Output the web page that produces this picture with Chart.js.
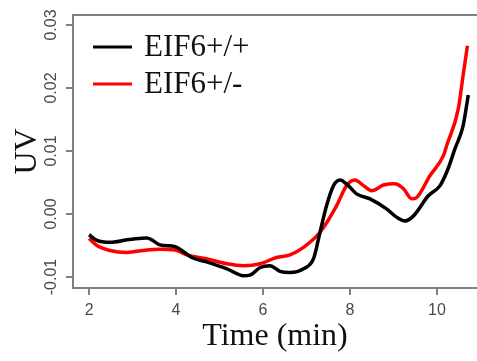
<!DOCTYPE html>
<html>
<head>
<meta charset="utf-8">
<script src="https://cdn.jsdelivr.net/npm/chart.js@4"></script>
<style>
  html, body { margin: 0; padding: 0; background: #fff; }
  #wrap { width: 477px; height: 361px; }
</style>
</head>
<body>
<div id="wrap"><canvas id="uvChart" width="477" height="361"></canvas></div>
<script>
// Values
const seriesNames = ['EIF6+/+', 'EIF6+/-'];

const wtTime = [2.00, 2.18, 2.48, 2.87, 3.15, 3.33, 3.44, 3.63, 3.98, 4.09, 4.36, 4.70, 5.17, 5.55, 5.70, 5.93,
                6.16, 6.39, 6.62, 6.93, 7.16, 7.31, 7.46, 7.62, 7.77, 7.96, 8.15, 8.46, 8.84, 9.07, 9.26, 9.46,
                9.80, 10.07, 10.25, 10.41, 10.60, 10.72];
const wtUV = [-0.0033, -0.0042, -0.0045, -0.0041, -0.0039, -0.0038, -0.0041, -0.0049, -0.0052, -0.0056, -0.0069,
              -0.0076, -0.0087, -0.0098, -0.0097, -0.0085, -0.0082, -0.0091, -0.0093, -0.0087, -0.0071, -0.0029,
              0.0013, 0.0045, 0.0054, 0.0045, 0.0032, 0.0024, 0.0008, -0.0005, -0.0011, -0.0003,
              0.0029, 0.0045, 0.0071, 0.0103, 0.0140, 0.0189];

const hetTime = [2.00, 2.18, 2.48, 2.87, 3.33, 3.63, 3.98, 4.25, 4.70, 5.17, 5.55, 5.93, 6.31, 6.62, 6.93, 7.31,
                 7.69, 7.92, 8.11, 8.31, 8.50, 8.77, 9.03, 9.23, 9.42, 9.53, 9.84, 10.15, 10.22, 10.49, 10.60, 10.70];
const hetUV = [-0.0039, -0.0050, -0.0058, -0.0061, -0.0057, -0.0056, -0.0057, -0.0065, -0.0071, -0.0079, -0.0082,
               -0.0079, -0.0069, -0.0065, -0.0053, -0.0029, 0.0013, 0.0045, 0.0054, 0.0045, 0.0037, 0.0046,
               0.0048, 0.0040, 0.0024, 0.0026, 0.0061, 0.0093, 0.0108, 0.0167, 0.0220, 0.0267];

const xTicks = [2, 4, 6, 8, 10];
const yTicks = [-0.01, 0.00, 0.01, 0.02, 0.03];

const axisGray = '#808080';
const labelGray = '#4a4a4a';
const serif = "'Liberation Serif', 'Times New Roman', serif";
const sans = "'Liberation Sans', Arial, sans-serif";

function toPoints(xs, ys) {
    return xs.map((x, i) => ({ x: x, y: ys[i] }));
}

// top border of the frame + legend inside the plot
const framePlugin = {
    id: 'frame',
    afterDraw(chart) {
        const { ctx, chartArea } = chart;
        ctx.save();
        ctx.strokeStyle = axisGray;
        ctx.lineWidth = 2;
        ctx.beginPath();
        ctx.moveTo(chartArea.left, chartArea.top);
        ctx.lineTo(chartArea.right, chartArea.top);
        ctx.stroke();

        const colors = ['#000000', '#ff0000'];
        ctx.font = '31px ' + serif;
        ctx.textBaseline = 'alphabetic';
        ctx.textAlign = 'left';
        seriesNames.forEach((name, i) => {
            const y = 47 + i * 37;
            ctx.strokeStyle = colors[i];
            ctx.lineWidth = 3;
            ctx.beginPath();
            ctx.moveTo(93, y);
            ctx.lineTo(132, y);
            ctx.stroke();
            ctx.fillStyle = '#111';
            ctx.fillText(name, 144, y + 9);
        });
        ctx.restore();
    }
};

new Chart(document.getElementById('uvChart'), {
    type: 'line',
    data: {
        datasets: [
            {
                label: seriesNames[0],
                data: toPoints(wtTime, wtUV),
                borderColor: '#000000',
                borderWidth: 3.5,
                pointRadius: 0,
                cubicInterpolationMode: 'monotone'
            },
            {
                label: seriesNames[1],
                data: toPoints(hetTime, hetUV),
                borderColor: '#ff0000',
                borderWidth: 3.5,
                pointRadius: 0,
                cubicInterpolationMode: 'monotone'
            }
        ]
    },
    options: {
        responsive: false,
        animation: false,
        layout: { padding: { top: 15, right: 0, bottom: 0, left: 0 } },
        plugins: {
            legend: { display: false },
            tooltip: { enabled: false }
        },
        scales: {
            x: {
                type: 'linear',
                min: 1.63,
                max: 10.92,
                afterBuildTicks: (scale) => { scale.ticks = xTicks.map(v => ({ value: v })); },
                afterFit: (scale) => { scale.height = 73; },
                border: { color: axisGray, width: 2 },
                grid: { drawOnChartArea: false, tickLength: 7, color: axisGray, lineWidth: 2 },
                ticks: {
                    color: labelGray,
                    font: { family: sans, size: 16 },
                    padding: 6,
                    maxRotation: 0
                },
                title: {
                    display: true,
                    text: 'Time (min)',
                    color: '#111',
                    font: { family: serif, size: 32 },
                    padding: { top: 0, bottom: 5 }
                }
            },
            y: {
                type: 'linear',
                min: -0.01175,
                max: 0.03159,
                afterBuildTicks: (scale) => { scale.ticks = yTicks.map(v => ({ value: v })); },
                afterFit: (scale) => { scale.width = 73; },
                border: { color: axisGray, width: 2 },
                grid: { drawOnChartArea: false, tickLength: 7, color: axisGray, lineWidth: 2 },
                ticks: {
                    color: labelGray,
                    font: { family: sans, size: 16 },
                    padding: -4,
                    minRotation: 90,
                    maxRotation: 90,
                    crossAlign: 'center',
                    callback: (v) => v.toFixed(2)
                },
                title: {
                    display: true,
                    text: 'UV',
                    color: '#111',
                    font: { family: serif, size: 32 },
                    padding: { top: 8, bottom: 0 }
                }
            }
        }
    },
    plugins: [framePlugin]
});
</script>
</body>
</html>
